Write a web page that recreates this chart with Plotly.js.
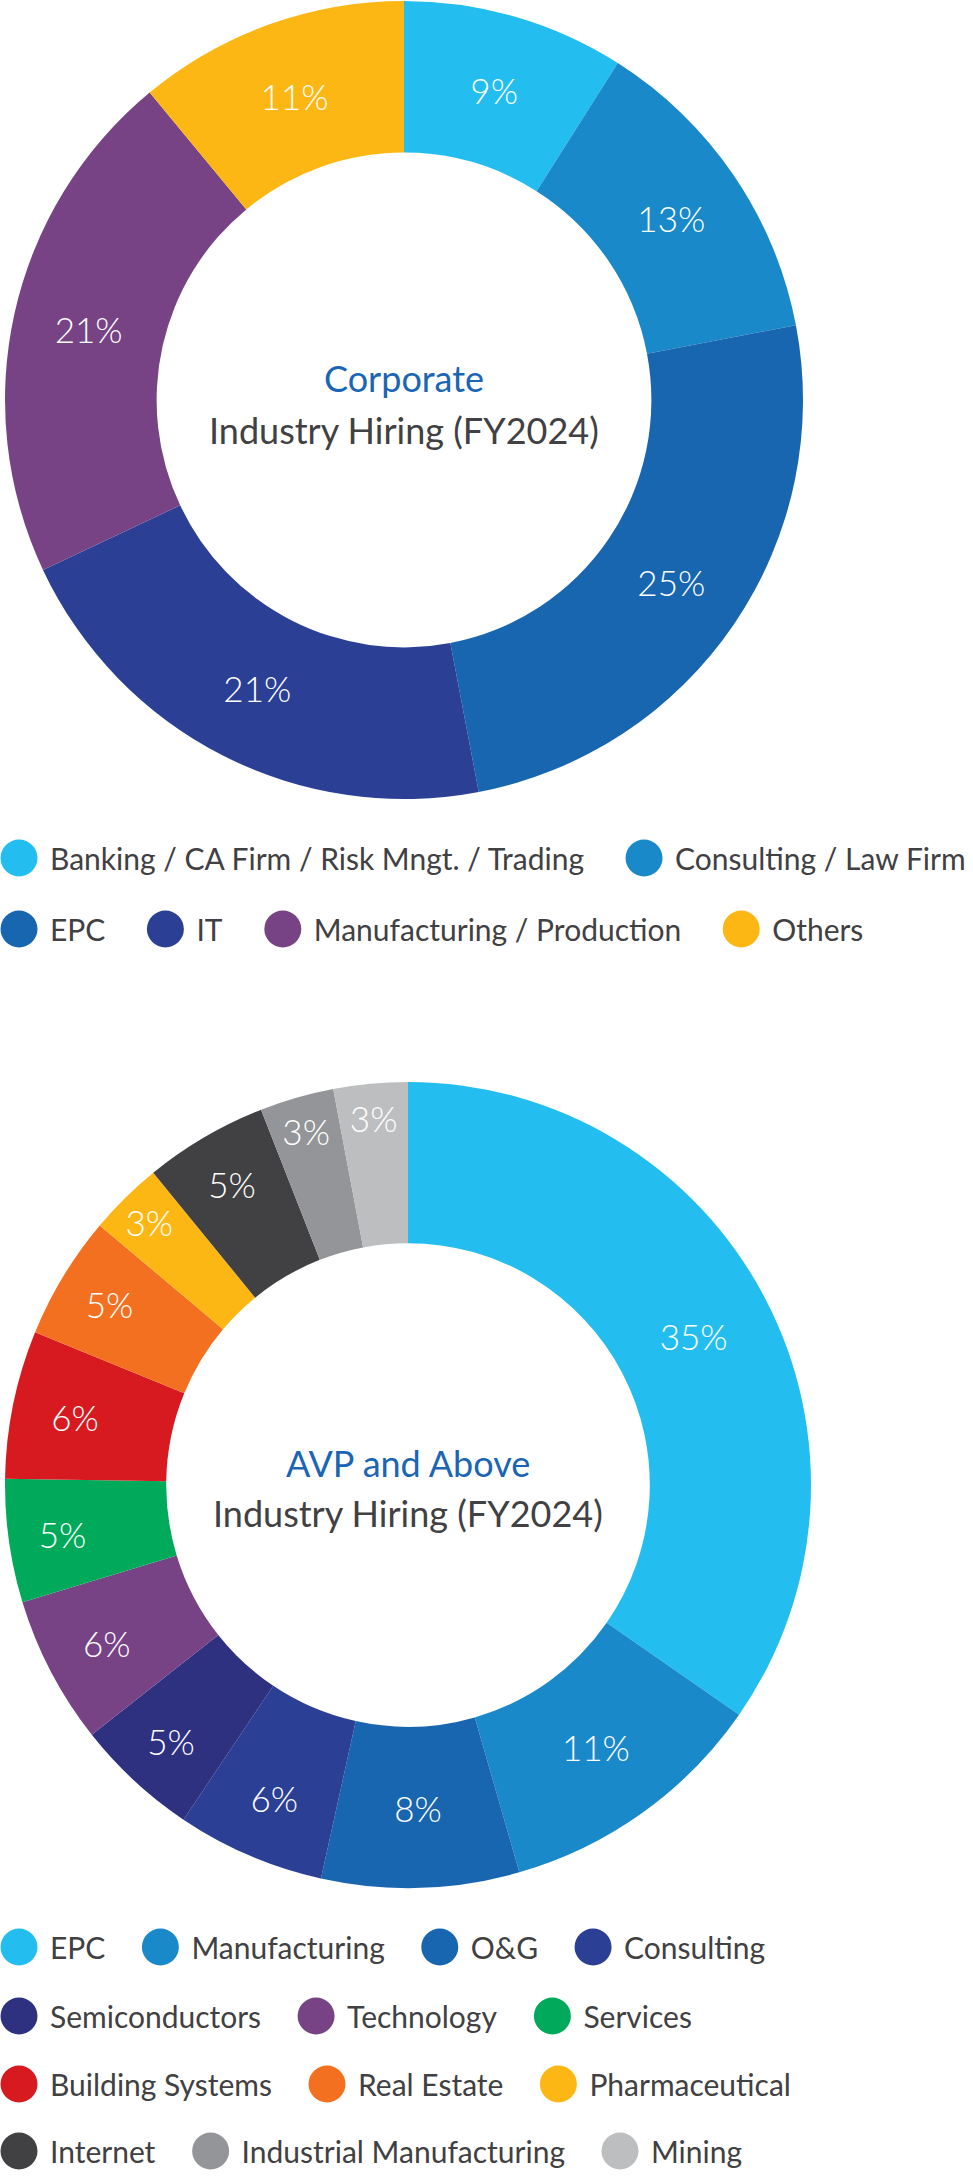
<!DOCTYPE html>
<html><head><meta charset="utf-8">
<script src="https://cdn.plot.ly/plotly-3.0.1.min.js"></script>
<style>html,body{margin:0;padding:0;background:#fff}</style>
</head><body><div id="chart" style="width:973px;height:2181px"></div>
<script>
// ---------- data ----------
const corpCategories = ['Banking / CA Firm / Risk Mngt. / Trading', 'Consulting / Law Firm', 'EPC', 'IT', 'Manufacturing / Production', 'Others'];
const corpValues = [9, 13, 25, 21, 21, 11];
const corpColors = ['#23BEEF', '#1A89CA', '#1865B0', '#2B3F94', '#774385', '#FDB714'];

const avpCategories = ['EPC', 'Manufacturing', 'O&G', 'Consulting', 'Semiconductors', 'Technology', 'Services', 'Building Systems', 'Real Estate', 'Pharmaceutical', 'Internet', 'Industrial Manufacturing', 'Mining'];
const avpValues = [35, 11, 8, 6, 5, 6, 5, 6, 5, 3, 5, 3, 3];
const avpColors = ['#23BEEF', '#1A89CA', '#1865B0', '#2B3F94', '#2E3080', '#774385', '#00AA5A', '#D71920', '#F37021', '#FDB714', '#414042', '#939598', '#BCBEC0'];

const corpTitle = 'Corporate';
const avpTitle = 'AVP and Above';
const subTitle = 'Industry Hiring (FY2024)';

// ---------- layout helpers ----------
const W = 973, H = 2181;
const FONT = 'Lato, "Open Sans", sans-serif';
const TEXT = '#414042';
const BLUE = '#1A66B5';
const px = v => v / W;
const py = v => 1 - v / H;

const corpDomain = {x: [px(5), px(803)], y: [py(799), py(1)]};
const avpDomain = {x: [px(5), px(811)], y: [py(1888), py(1082)]};

const corpRows = [[0, 1], [2, 3, 4, 5]];
const corpRowY = [858, 929];
const avpRows = [[0, 1, 2, 3], [4, 5, 6], [7, 8, 9], [10, 11, 12]];
const avpRowY = [1947, 2016, 2084, 2151];
const legendExtraGap = [36, 36, 31, 31, 31, 31];

function pieTrace(cats, vals, cols, dom, hole) {
  return {
    type: 'pie', labels: cats, values: vals, sort: false, direction: 'clockwise', rotation: 0,
    hole: hole, domain: dom, marker: {colors: cols, line: {width: 0}},
    text: vals.map(v => v + '%'), textinfo: 'text', textposition: 'inside',
    insidetextorientation: 'horizontal',
    textfont: {family: FONT, size: 35, color: '#ffffff', weight: 300},
    showlegend: false, hoverinfo: 'none'
  };
}

const traces = [
  pieTrace(corpCategories, corpValues, corpColors, corpDomain, 0.62),
  pieTrace(avpCategories, avpValues, avpColors, avpDomain, 0.60)
];

const layout = {
  width: W, height: H, margin: {l: 0, r: 0, t: 0, b: 0, autoexpand: false},
  paper_bgcolor: '#ffffff', plot_bgcolor: '#ffffff',
  xaxis: {visible: false, domain: [0, 0.01]}, yaxis: {visible: false, domain: [0, 0.01]},
  annotations: [], showlegend: true
};

let legendIdx = 1;
function addLegendRows(cats, cols, rows, rowY) {
  rows.forEach((row, r) => {
    const key = legendIdx === 1 ? 'legend' : 'legend' + legendIdx;
    row.forEach(i => {
      traces.push({
        type: 'scatter', mode: 'markers', x: [null], y: [null], name: cats[i],
        marker: {color: cols[i], size: 16, symbol: 'circle'},
        legend: key, showlegend: true, hoverinfo: 'skip'
      });
    });
    layout[key] = {
      orientation: 'h', x: 0, xanchor: 'left', y: py(rowY[r]), yanchor: 'middle',
      font: {family: FONT, size: 30, color: TEXT}, itemwidth: 40,
      bgcolor: 'rgba(0,0,0,0)', borderwidth: 0, traceorder: 'normal',
      itemclick: false, itemdoubleclick: false, valign: 'middle'
    };
    legendIdx++;
  });
}
addLegendRows(corpCategories, corpColors, corpRows, corpRowY);
addLegendRows(avpCategories, avpColors, avpRows, avpRowY);

function centerText(dom, title, shiftA, shiftB) {
  const cx = (dom.x[0] + dom.x[1]) / 2, cy = (dom.y[0] + dom.y[1]) / 2;
  layout.annotations.push({xref: 'paper', yref: 'paper', x: cx, y: cy, yshift: shiftA, showarrow: false,
    text: title, font: {family: FONT, size: 36, color: BLUE}, xanchor: 'center', yanchor: 'middle'});
  layout.annotations.push({xref: 'paper', yref: 'paper', x: cx, y: cy, yshift: shiftB, showarrow: false,
    text: subTitle, font: {family: FONT, size: 36, color: TEXT}, xanchor: 'center', yanchor: 'middle'});
}
centerText(corpDomain, corpTitle, 22, -30);
centerText(avpDomain, avpTitle, 22, -28);

Plotly.newPlot('chart', traces, layout, {displayModeBar: false, staticPlot: true}).then(gd => {
  // larger round legend markers
  const r = 18.5, c = -6;
  gd.querySelectorAll('.infolayer path.scatterpts').forEach(p => {
    p.setAttribute('d', `M${c + r},0A${r},${r} 0 1,1 ${c},-${r}A${r},${r} 0 0,1 ${c + r},0Z`);
  });
  // wider spacing between legend entries
  for (let n = 1; n < legendIdx; n++) {
    const cls = n === 1 ? 'legend' : 'legend' + n;
    const lg = gd.querySelector('.infolayer > g.' + cls);
    if (!lg) continue;
    lg.querySelectorAll('[clip-path]').forEach(el => el.removeAttribute('clip-path'));
    lg.querySelectorAll('g.traces').forEach((t, k) => {
      const m = /translate\(\s*([-\d.e]+)[ ,]+([-\d.e]+)\s*\)/.exec(t.getAttribute('transform') || '');
      if (m) t.setAttribute('transform', `translate(${parseFloat(m[1]) + k * legendExtraGap[n - 1]},${m[2]})`);
    });
  }
});
</script>
</body></html>
